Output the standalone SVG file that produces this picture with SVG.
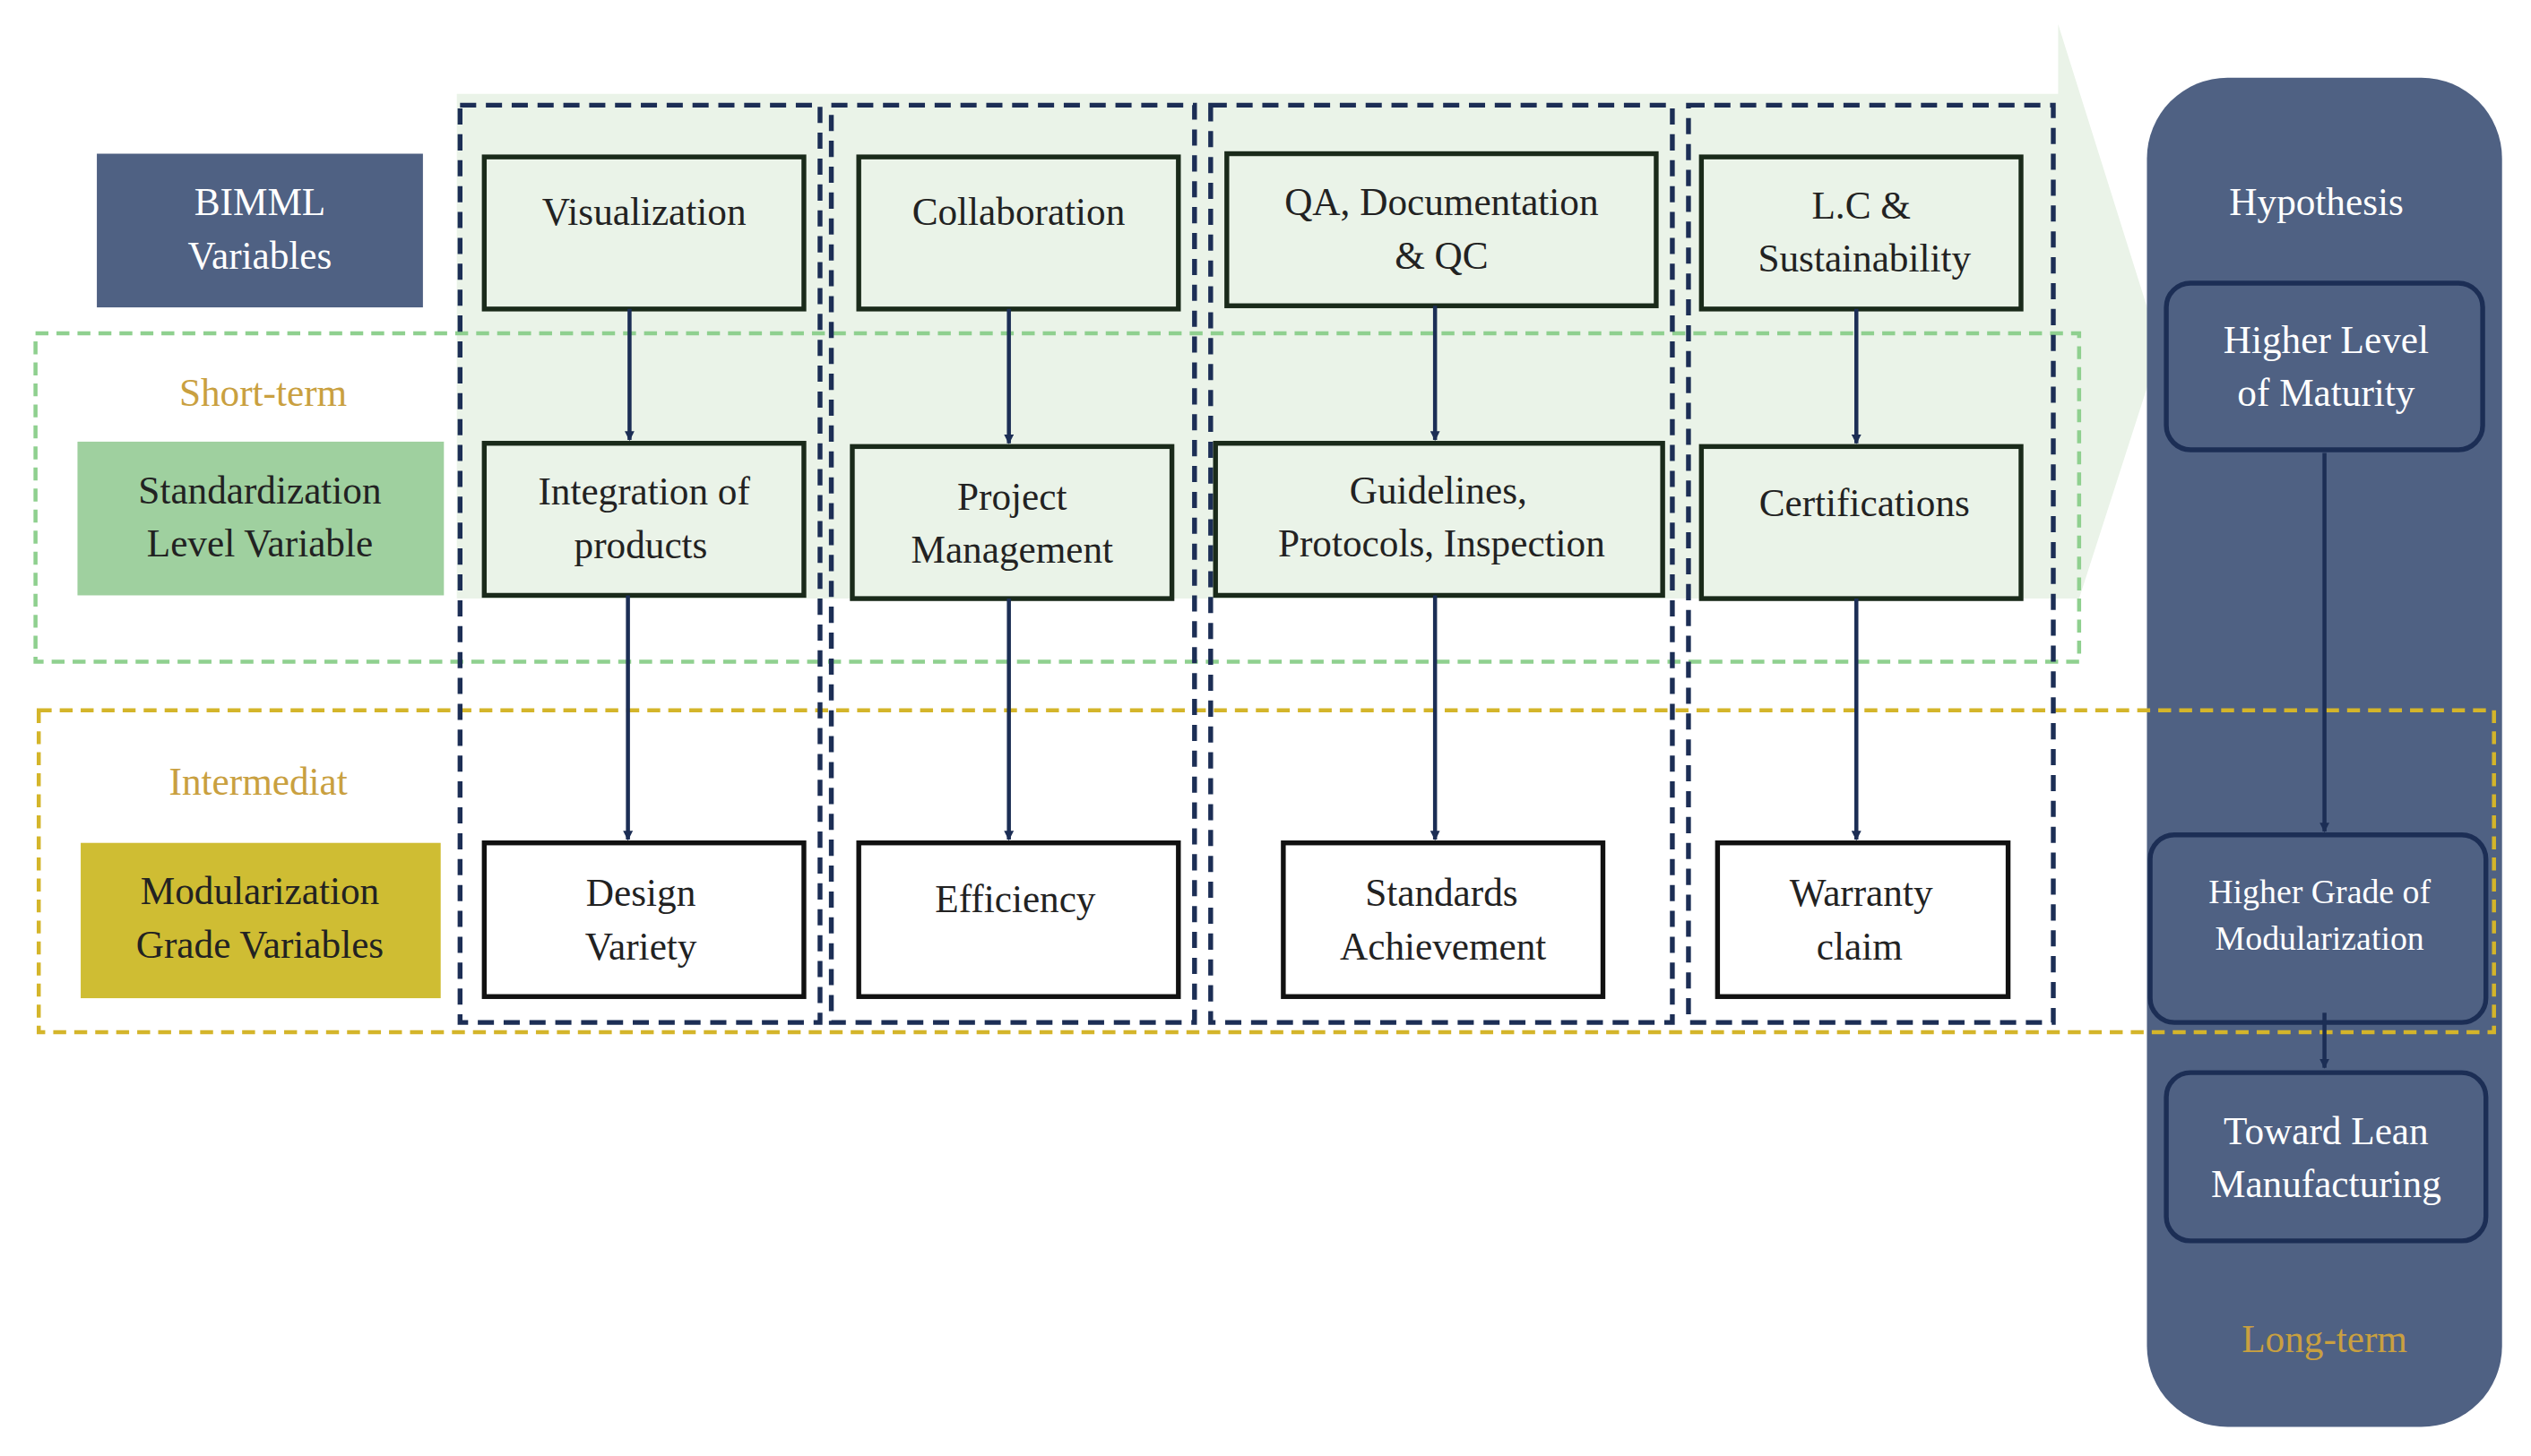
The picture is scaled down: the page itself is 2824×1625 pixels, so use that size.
<svg xmlns="http://www.w3.org/2000/svg" width="2824" height="1625" viewBox="0 0 2824 1625">
<defs>
<style>
text{font-family:"Liberation Serif","Times New Roman",serif;font-size:24px;text-anchor:middle}
.w{fill:#fff}.k{fill:#222}.g{fill:#c9a040}
.tb{fill:#eaf3e8;stroke:#1a2a1a;stroke-width:3}
.bb{fill:#fff;stroke:#111;stroke-width:3}
.col{fill:none;stroke:#1c2e55;stroke-width:3;stroke-dasharray:10 6}
.hb{fill:#4f6183;stroke:#1c2e55;stroke-width:3}
.cn{stroke:#1c2e55;stroke-width:2.5;fill:none;marker-end:url(#ah)}
</style>
<marker id="ah" viewBox="0 0 10 10" refX="9" refY="5" markerWidth="6" markerHeight="6" orient="auto" markerUnits="userSpaceOnUse"><path d="M0,0L10,5L0,10z" fill="#1c2e55"/></marker>
</defs>
<rect width="2824" height="1625" fill="#fff"/>
<g transform="scale(1.8011,1.8056)">
<g id="bigarrow"><path d="M283,58H1275V15L1338,215L1288,370H283Z" fill="#eaf3e8"/></g>
<g id="panel"><rect x="1330" y="48" width="220" height="834" rx="50" fill="#4f6183"/><text x="1435" y="133" class="w">Hypothesis</text><text x="1440" y="836" class="g">Long-term</text></g>
<rect x="22" y="206" width="1266" height="203" fill="none" stroke="#8fd08f" stroke-width="2.5" stroke-dasharray="8 5"/>
<rect x="24" y="439" width="1521" height="199" fill="none" stroke="#d4b52a" stroke-width="2.5" stroke-dasharray="8 5"/>
<g id="columns">
<rect class="col" x="285" y="65" width="223" height="567"/>
<rect class="col" x="515" y="65" width="225" height="567"/>
<rect class="col" x="750" y="65" width="286" height="567"/>
<rect class="col" x="1046" y="65" width="226" height="567"/>
</g>
<g id="bimml"><rect x="60" y="95" width="202" height="95" fill="#4f6183"/><text x="161" y="133" class="w">BIMML</text><text x="161" y="166" class="w">Variables</text></g>
<text x="163" y="251" class="g">Short-term</text>
<g id="std"><rect x="48" y="273" width="227" height="95" fill="#9fd09f"/><text x="161" y="311" class="k">Standardization</text><text x="161" y="344" class="k">Level Variable</text></g>
<text x="160" y="491" class="g">Intermediat</text>
<g id="mod"><rect x="50" y="521" width="223" height="96" fill="#cfbd33"/><text x="161" y="559" class="k">Modularization</text><text x="161" y="592" class="k">Grade Variables</text></g>
<g id="vis"><rect class="tb" x="300" y="97" width="198" height="94"/><text x="399" y="139" class="k">Visualization</text></g>
<g id="col"><rect class="tb" x="532" y="97" width="198" height="94"/><text x="631" y="139" class="k">Collaboration</text></g>
<g id="qa"><rect class="tb" x="760" y="95" width="266" height="94"/><text x="893" y="133" class="k">QA, Documentation</text><text x="893" y="166" class="k">&amp; QC</text></g>
<g id="lc"><rect class="tb" x="1054" y="97" width="198" height="94"/><text x="1153" y="135" class="k">L.C &amp;</text><text x="1155" y="168" class="k">Sustainability</text></g>
<g id="int"><rect class="tb" x="300" y="274" width="198" height="94"/><text x="399" y="312" class="k">Integration of</text><text x="397" y="345" class="k">products</text></g>
<g id="pm"><rect class="tb" x="528" y="276" width="198" height="94"/><text x="627" y="315" class="k">Project</text><text x="627" y="348" class="k">Management</text></g>
<g id="gl"><rect class="tb" x="753" y="274" width="277" height="94"/><text x="891" y="311" class="k">Guidelines,</text><text x="893" y="344" class="k">Protocols, Inspection</text></g>
<g id="cert"><rect class="tb" x="1054" y="276" width="198" height="94"/><text x="1155" y="319" class="k">Certifications</text></g>
<g id="dv"><rect class="bb" x="300" y="521" width="198" height="95"/><text x="397" y="560" class="k">Design</text><text x="397" y="593" class="k">Variety</text></g>
<g id="eff"><rect class="bb" x="532" y="521" width="198" height="95"/><text x="629" y="564" class="k">Efficiency</text></g>
<g id="sa"><rect class="bb" x="795" y="521" width="198" height="95"/><text x="893" y="560" class="k">Standards</text><text x="894" y="593" class="k">Achievement</text></g>
<g id="wc"><rect class="bb" x="1064" y="521" width="180" height="95"/><text x="1153" y="560" class="k">Warranty</text><text x="1152" y="593" class="k">claim</text></g>
<g id="hl"><rect class="hb" x="1342" y="175" width="196" height="103" rx="15"/><text x="1441" y="218" class="w">Higher Level</text><text x="1441" y="251" class="w">of Maturity</text></g>
<g id="hg"><rect class="hb" x="1332" y="516" width="208" height="116" rx="15"/><text x="1437" y="558" class="w" style="font-size:21px">Higher Grade of</text><text x="1437" y="587" class="w" style="font-size:21px">Modularization</text></g>
<g id="tl"><rect class="hb" x="1342" y="663" width="198" height="104" rx="15"/><text x="1441" y="707" class="w">Toward Lean</text><text x="1441" y="740" class="w">Manufacturing</text></g>
<g id="connectors">
<path class="cn" d="M390,191V272"/><path class="cn" d="M389,368V519"/>
<path class="cn" d="M625,191V274"/><path class="cn" d="M625,370V519"/>
<path class="cn" d="M889,189V272"/><path class="cn" d="M889,368V519"/>
<path class="cn" d="M1150,191V274"/><path class="cn" d="M1150,370V519"/>
<path class="cn" d="M1440,280V514"/><path class="cn" d="M1440,626V660"/>
</g>
</g>
</svg>
